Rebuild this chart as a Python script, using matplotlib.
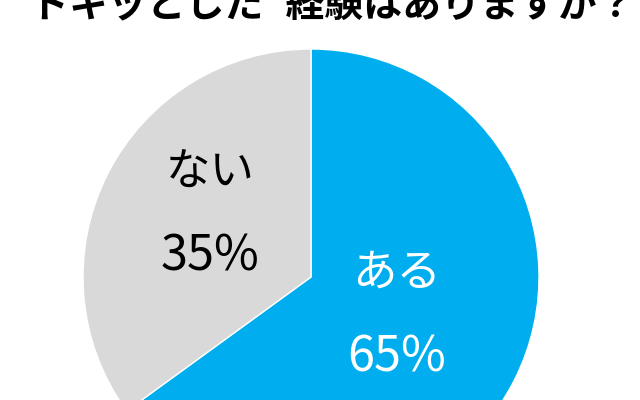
import matplotlib.pyplot as plt

plt.rcParams['font.family'] = ['Noto Sans CJK JP', 'DejaVu Sans']

labels = ['ある', 'ない']
values = [65, 35]
colors = ['#00AEEF', '#D9D9D9']
text_colors = ['white', 'black']
title = 'ドキッとした”経験はありますか？'

fig = plt.figure(figsize=(6.4, 4.0), dpi=100)
ax = fig.add_axes([0, 0, 1, 1])
ax.axis('off')

cx, cy, r = 311, 123, 228
wedges, _ = ax.pie(values, colors=colors, startangle=90, counterclock=False,
                   center=(cx, cy), radius=r,
                   wedgeprops=dict(edgecolor='white', linewidth=1))
ax.set_xlim(0, 640)
ax.set_ylim(0, 400)
ax.set_aspect('equal')

# label positions (pixel coords, y up)
label_pos = [(397, 127), (210, 227)]
pct_pos = [(397, 42), (210, 143)]
for lab, v, c, (lx, ly), (px, py) in zip(labels, values, text_colors, label_pos, pct_pos):
    ax.text(lx, ly, lab, color=c, fontsize=32, ha='center', va='center')
    ax.text(px, py, f'{v}%', color=c, fontsize=35, ha='center', va='center')

ax.text(333, 384, title, fontsize=28, fontweight='bold', ha='center',
        va='baseline', color='black')

fig.savefig('out.png', dpi=100)
